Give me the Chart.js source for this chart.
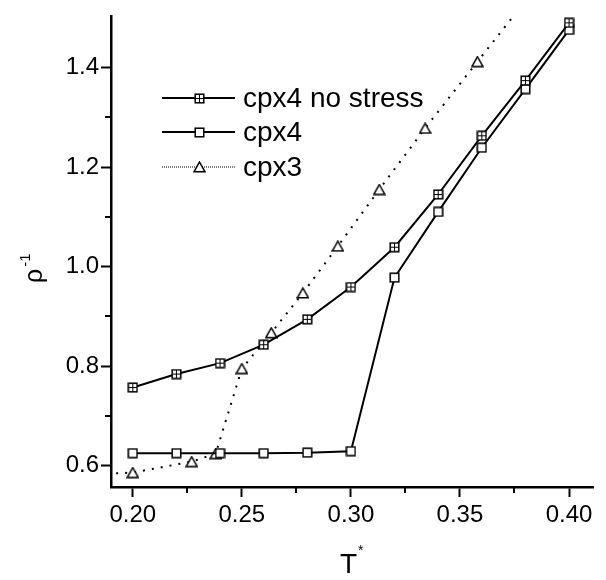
<!DOCTYPE html>
<html>
<head>
<meta charset="utf-8">
<style>
html, body { margin: 0; padding: 0; background: #fff; }
#box { width: 606px; height: 580px; }
</style>
<script src="https://cdn.jsdelivr.net/npm/chart.js@4/dist/chart.umd.min.js"></script>
</head>
<body>
<div id="box"><canvas id="graf"></canvas></div>
<script>
// temperatures T* and inverse density rho^-1
const tempCpx4 = [0.20, 0.22, 0.24, 0.26, 0.28, 0.30, 0.32, 0.34, 0.36, 0.38, 0.40];
const rhoNoStress = [0.757, 0.784, 0.806, 0.843, 0.894, 0.959, 1.039, 1.145, 1.263, 1.374, 1.490];
const rhoCpx4 = [0.625, 0.625, 0.625, 0.625, 0.626, 0.629, 0.978, 1.110, 1.239, 1.357, 1.476];
const tempCpx3 = [0.180, 0.200, 0.227, 0.238, 0.250, 0.2635, 0.278, 0.294, 0.313, 0.334, 0.358, 0.382];
const rhoCpx3 = [0.582, 0.586, 0.608, 0.624, 0.795, 0.867, 0.947, 1.041, 1.155, 1.278, 1.412, 1.545];

const labels = ['cpx4 no stress', 'cpx4', 'cpx3'];
const xTickLabels = ['0.20', '0.25', '0.30', '0.35', '0.40'];
const yTickLabels = ['0.6', '0.8', '1.0', '1.2', '1.4'];

const fontFam = '"Liberation Sans", Arial, sans-serif';

// marker pictures
function makeMarker(kind) {
    const c = document.createElement('canvas');
    c.width = kind == 'tri' ? 13 : 11;
    c.height = kind == 'tri' ? 12 : 11;
    const g = c.getContext('2d');
    g.strokeStyle = '#000';
    g.fillStyle = '#fff';
    g.lineWidth = 1.5;
    if (kind == 'tri') {
        g.beginPath();
        g.moveTo(6.5, 1);
        g.lineTo(12, 10.8);
        g.lineTo(1, 10.8);
        g.closePath();
        g.fill();
        g.stroke();
    } else {
        g.fillRect(1, 1, 9, 9);
        g.strokeRect(1.2, 1.2, 8.6, 8.6);
        if (kind == 'cross') {
            g.lineWidth = 1;
            g.beginPath();
            g.moveTo(5.5, 1.5); g.lineTo(5.5, 9.5);
            g.moveTo(1.5, 5.5); g.lineTo(9.5, 5.5);
            g.stroke();
        }
    }
    return c;
}
const mCross = makeMarker('cross');
const mSquare = makeMarker('square');
const mTri = makeMarker('tri');

const pts = (xs, ys) => xs.map((x, i) => ({x: x, y: ys[i]}));
const isMajor = (v, step) => Math.abs(v / step - Math.round(v / step)) < 0.01;

const minorTicks = {
    id: 'minorTicks',
    afterDraw(chart) {
        const ctx = chart.ctx;
        const xs = chart.scales.x, ys = chart.scales.y;
        ctx.save();
        ctx.strokeStyle = '#000';
        ctx.lineWidth = 2;
        ctx.beginPath();
        xs.ticks.forEach(t => {
            if (!isMajor(t.value, 0.05)) {
                const px = Math.round(xs.getPixelForValue(t.value));
                ctx.moveTo(px, xs.top);
                ctx.lineTo(px, xs.top + 6);
            }
        });
        ys.ticks.forEach(t => {
            if (!isMajor(t.value, 0.2) && t.value < 1.45) {
                const py = Math.round(ys.getPixelForValue(t.value));
                ctx.moveTo(ys.right, py);
                ctx.lineTo(ys.right - 6, py);
            }
        });
        ctx.stroke();

        // axis titles with superscripts
        ctx.fillStyle = '#000';
        ctx.textBaseline = 'alphabetic';
        ctx.textAlign = 'left';
        ctx.font = '28px ' + fontFam;
        ctx.fillText('T', 340, 573);
        ctx.font = '14px ' + fontFam;
        ctx.fillText('*', 358, 555);

        ctx.translate(42, 283);
        ctx.rotate(-Math.PI / 2);
        ctx.font = '25px ' + fontFam;
        ctx.fillText('ρ', 0, 0);
        const w = ctx.measureText('ρ').width;
        ctx.font = '15px ' + fontFam;
        ctx.fillText('-1', w + 2, -12);
        ctx.restore();
    }
};

const legendBox = {
    id: 'legendBox',
    afterDatasetsDraw(chart) {
        const ctx = chart.ctx;
        const rows = [98, 132, 167];
        const marks = [mCross, mSquare, mTri];
        ctx.save();
        rows.forEach((y, i) => {
            ctx.beginPath();
            ctx.strokeStyle = '#000';
            if (i == 2) {
                ctx.lineWidth = 1;
                ctx.setLineDash([1, 1]);
            } else {
                ctx.lineWidth = 2;
                ctx.setLineDash([]);
            }
            ctx.moveTo(162, y);
            ctx.lineTo(235, y);
            ctx.stroke();
            const m = marks[i];
            ctx.drawImage(m, Math.round(199 - m.width / 2), Math.round(y - m.height / 2));
            ctx.fillStyle = '#000';
            ctx.font = '28px ' + fontFam;
            ctx.textBaseline = 'middle';
            ctx.fillText(labels[i], 243, y + 1);
        });
        ctx.restore();
    }
};

new Chart('graf', {
    type: 'line',
    data: {
        datasets: [{
            label: labels[0],
            data: pts(tempCpx4, rhoNoStress),
            borderColor: '#000',
            borderWidth: 2,
            pointStyle: mCross,
            lineTension: 0,
            fill: false
        }, {
            label: labels[1],
            data: pts(tempCpx4, rhoCpx4),
            borderColor: '#000',
            borderWidth: 2,
            pointStyle: mSquare,
            lineTension: 0,
            fill: false
        }, {
            label: labels[2],
            data: pts(tempCpx3, rhoCpx3),
            borderColor: '#000',
            borderWidth: 2,
            borderDash: [2, 7],
            pointStyle: mTri,
            lineTension: 0,
            fill: false
        }]
    },
    options: {
        responsive: true,
        maintainAspectRatio: false,
        animation: false,
        events: [],
        layout: { padding: { left: 0, right: 13, top: 5, bottom: 0 } },
        plugins: {
            legend: { display: false },
            tooltip: { enabled: false }
        },
        scales: {
            x: {
                type: 'linear',
                min: 0.19,
                max: 0.411,
                afterFit: s => { s.height = 93; },
                grid: {
                    drawOnChartArea: false,
                    tickLength: 10,
                    tickWidth: 2,
                    tickColor: c => isMajor(c.tick.value, 0.05) ? '#000' : 'rgba(0,0,0,0)'
                },
                border: { color: '#000', width: 2.5 },
                ticks: {
                    stepSize: 0.025,
                    includeBounds: false,
                    autoSkip: false,
                    maxRotation: 0,
                    padding: 4,
                    color: '#000',
                    font: { family: fontFam, size: 24 },
                    callback: v => isMajor(v, 0.05) ? xTickLabels[Math.round((v - 0.20) / 0.05)] : ''
                }
            },
            y: {
                min: 0.557,
                max: 1.503,
                afterFit: s => { s.width = 111; },
                grid: {
                    drawOnChartArea: false,
                    tickLength: 10,
                    tickWidth: 2,
                    tickColor: c => isMajor(c.tick.value, 0.2) ? '#000' : 'rgba(0,0,0,0)'
                },
                border: { color: '#000', width: 2.5 },
                ticks: {
                    stepSize: 0.1,
                    includeBounds: false,
                    autoSkip: false,
                    padding: 2,
                    color: '#000',
                    font: { family: fontFam, size: 24 },
                    callback: v => isMajor(v, 0.2) ? yTickLabels[Math.round((v - 0.6) / 0.2)] : ''
                }
            }
        }
    },
    plugins: [minorTicks, legendBox]
});
</script>
</body>
</html>
